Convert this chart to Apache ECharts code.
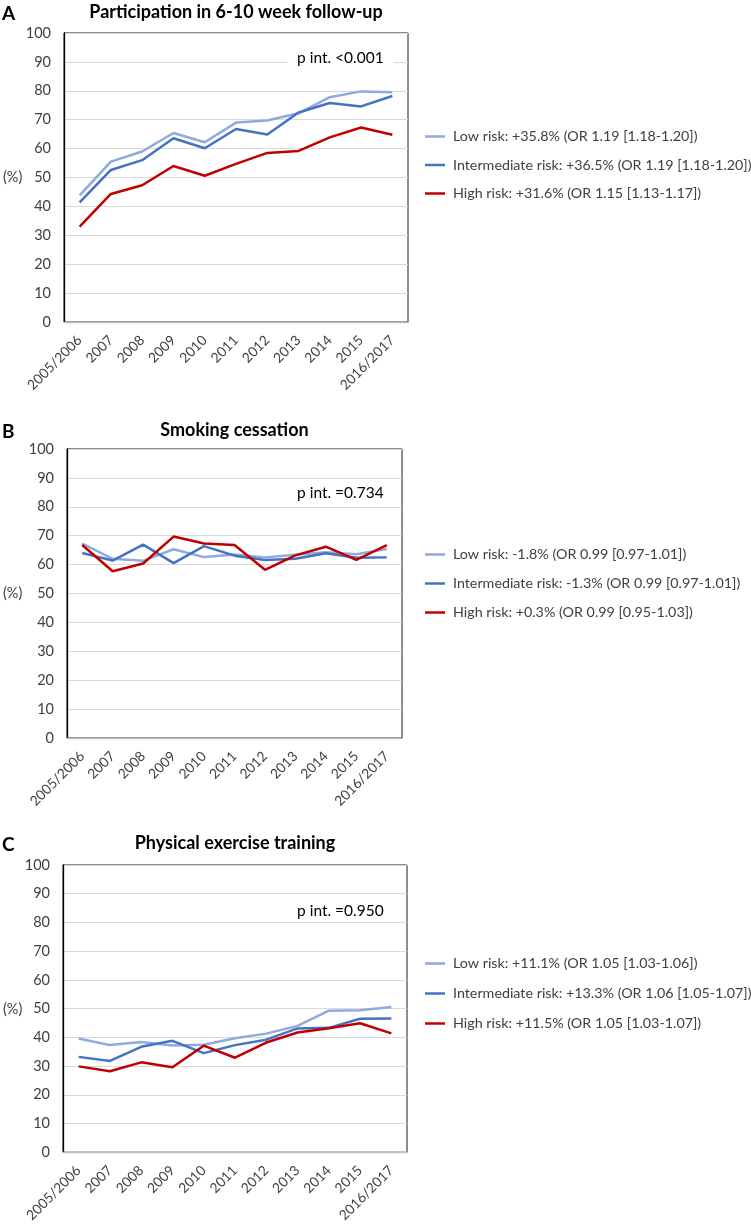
<!DOCTYPE html>
<html><head><meta charset="utf-8">
<script src="https://cdn.jsdelivr.net/npm/echarts@6/dist/echarts.min.js"></script>
<style>html,body{margin:0;padding:0;background:#fff}#c{width:751px;height:1225px}</style>
</head><body><div id="c"></div>
<script>
const categories = ['2005/2006','2007','2008','2009','2010','2011','2012','2013','2014','2015','2016/2017'];
const panelLetters = ['A','B','C'];
const panelTitles = ['Participation in 6-10 week follow-up','Smoking cessation','Physical exercise training'];
const pTexts = ['p int. <0.001','p int. =0.734','p int. =0.950'];
const lowNames = ['Low risk: +35.8% (OR 1.19 [1.18-1.20])','Low risk: -1.8% (OR 0.99 [0.97-1.01])','Low risk: +11.1% (OR 1.05 [1.03-1.06])'];
const intNames = ['Intermediate risk: +36.5% (OR 1.19 [1.18-1.20])','Intermediate risk: -1.3% (OR 0.99 [0.97-1.01])','Intermediate risk: +13.3% (OR 1.06 [1.05-1.07])'];
const highNames = ['High risk: +31.6% (OR 1.15 [1.13-1.17])','High risk: +0.3% (OR 0.99 [0.95-1.03])','High risk: +11.5% (OR 1.05 [1.03-1.07])'];

const lowA  = [43.8, 55.5, 59.0, 65.4, 62.2, 69.0, 69.7, 72.2, 77.8, 79.8, 79.5];
const intA  = [41.4, 52.6, 56.0, 63.6, 60.1, 66.8, 64.9, 72.5, 75.8, 74.6, 78.2];
const highA = [33.0, 44.3, 47.3, 54.0, 50.6, 54.7, 58.5, 59.2, 63.9, 67.3, 64.8];

const lowB  = [67.3, 62.0, 61.3, 65.3, 62.6, 63.5, 62.5, 63.4, 64.3, 63.6, 65.4];
const intB  = [64.0, 61.4, 66.9, 60.5, 66.4, 63.1, 61.6, 62.0, 63.9, 62.4, 62.5];
const highB = [66.8, 57.7, 60.4, 69.7, 67.3, 66.8, 58.2, 63.2, 66.2, 61.6, 66.7];

const lowC  = [39.6, 37.3, 38.4, 37.2, 37.4, 39.7, 41.3, 44.0, 49.3, 49.4, 50.6];
const intC  = [33.2, 31.8, 36.7, 38.8, 34.5, 37.3, 39.2, 43.1, 43.3, 46.5, 46.6];
const highC = [29.9, 28.2, 31.3, 29.6, 37.1, 32.9, 38.2, 41.7, 43.2, 44.9, 41.4];

const lowData = [lowA, lowB, lowC];
const intData = [intA, intB, intC];
const highData = [highA, highB, highC];

const colors = ['#8FAADC', '#4472C4', '#C00000'];
const FONT = 'Lato, "Open Sans", sans-serif';

const grids = [
  {left: 64, top: 33, width: 344, height: 289},
  {left: 67, top: 449, width: 335, height: 289},
  {left: 63, top: 865, width: 344, height: 288}
];
const legendTops = [123, 541, 950];
const legendGaps = [11.5, 12, 13];
const titleY = [12, 430, 843];
const pPos = [[297, 58], [297, 493], [297, 911]];

const option = {
  animation: false,
  backgroundColor: '#fff',
  grid: grids.map(g => Object.assign({show: true, borderColor: '#1a1a1a', borderWidth: 1, backgroundColor: 'transparent'}, g)),
  xAxis: grids.map((g, i) => ({
    type: 'category', gridIndex: i, data: categories, boundaryGap: true,
    axisLine: {show: true, lineStyle: {color: '#bfbfbf', width: 1.3}},
    axisTick: {show: false},
    axisLabel: {interval: 0, rotate: 45, margin: 16, fontSize: 13.8, color: '#404040', fontFamily: FONT}
  })),
  yAxis: grids.map((g, i) => ({
    type: 'value', gridIndex: i, min: 0, max: 100, interval: 10,
    axisLine: {show: true, lineStyle: {color: '#000', width: 1.3}},
    axisTick: {show: false},
    splitLine: {show: true, lineStyle: {color: '#d9d9d9', width: 1}},
    axisLabel: {margin: 13, fontSize: 14.5, color: '#404040', fontFamily: FONT}
  })),
  legend: grids.map((g, i) => ({
    orient: 'vertical', left: 420, top: legendTops[i],
    data: [lowNames[i], intNames[i], highNames[i]],
    icon: 'rect', itemWidth: 20, itemHeight: 2.5, itemGap: legendGaps[i],
    selectedMode: false,
    textStyle: {fontSize: 14.3, color: '#404040', fontFamily: FONT, lineHeight: 17, padding: [0, 0, 0, 3]}
  })),
  series: [],
  graphic: []
};

for (let i = 0; i < 3; i++) {
  const names = [lowNames[i], intNames[i], highNames[i]];
  const datas = [lowData[i], intData[i], highData[i]];
  for (let k = 0; k < 3; k++) {
    option.series.push({
      type: 'line', name: names[k], xAxisIndex: i, yAxisIndex: i,
      data: datas[k], symbol: 'none', color: colors[k],
      lineStyle: {width: 2.5, color: colors[k]}, z: 3 + k
    });
  }
  const g = grids[i];
  option.graphic.push(
    {type: 'text', x: 2, y: titleY[i] + 2, z: 20,
     style: {text: panelLetters[i], font: 'bold 19px ' + FONT, fill: '#000', textVerticalAlign: 'middle'}},
    {type: 'text', x: g.left + g.width / 2, y: titleY[i], z: 20,
     style: {text: panelTitles[i], font: 'bold 18px ' + FONT, fill: '#000', textAlign: 'center', textVerticalAlign: 'middle'}},
    {type: 'text', x: 3, y: g.top + g.height / 2, z: 20,
     style: {text: '(%)', font: '14.5px ' + FONT, fill: '#404040', textVerticalAlign: 'middle'}},
    {type: 'text', x: pPos[i][0] - 10, y: pPos[i][1], z: 20,
     style: {text: pTexts[i], font: '15.5px ' + FONT, fill: '#000', textVerticalAlign: 'middle',
             backgroundColor: '#fff', padding: [2, 10, 2, 10]}}
  );
}

const chart = echarts.init(document.getElementById('c'), null, {renderer: 'canvas'});
chart.setOption(option);
</script></body></html>
